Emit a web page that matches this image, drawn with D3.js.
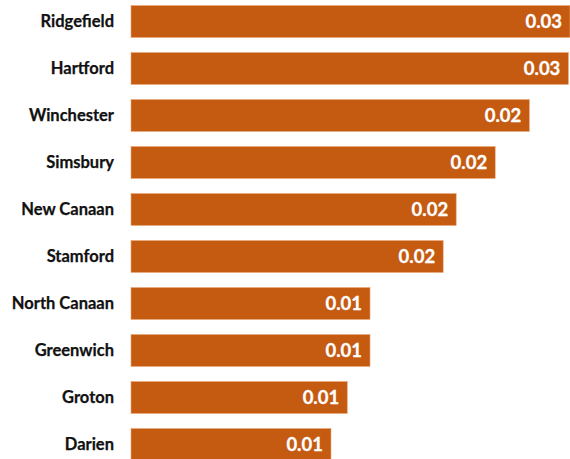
<!DOCTYPE html>
<html>
<head>
<meta charset="utf-8">
<script src="https://cdn.jsdelivr.net/npm/d3@7"></script>
<style>
  html, body { margin: 0; padding: 0; background: #fff; }
  svg { display: block; }
</style>
</head>
<body>
<script>
// Towns ranked by value, top to bottom
const towns = ["Ridgefield", "Hartford", "Winchester", "Simsbury", "New Canaan",
               "Stamford", "North Canaan", "Greenwich", "Groton", "Darien"];
const values = [0.0270, 0.0269, 0.0245, 0.0224, 0.0200,
                0.0192, 0.0147, 0.0147, 0.0133, 0.0123];

const width = 570, height = 459;
const barLeft = 131, barRight = 570;

const svg = d3.select("body").append("svg")
  .attr("width", width)
  .attr("height", height);

const x = d3.scaleLinear().domain([0, 0.027]).range([barLeft, barRight]);
const y = d3.scaleBand().domain(towns).range([-2, 468]).paddingInner(0.32).paddingOuter(0.16);

const fmt = d3.format(".2f");
const font = "Lato, 'Open Sans', sans-serif";

const rows = svg.selectAll("g.row")
  .data(towns.map((t, i) => ({ town: t, value: values[i] })))
  .join("g")
  .attr("class", "row");

rows.append("rect")
  .attr("x", x(0))
  .attr("y", d => y(d.town))
  .attr("width", d => x(d.value) - x(0))
  .attr("height", y.bandwidth())
  .attr("fill", "#C55A11")
  .attr("stroke", "#E8A878")
  .attr("stroke-width", 0.6);

// Category labels on the left
rows.append("text")
  .attr("x", barLeft - 17)
  .attr("y", d => y(d.town) + y.bandwidth() / 2)
  .attr("dy", "0.35em")
  .attr("text-anchor", "end")
  .attr("font-family", font)
  .attr("font-weight", "bold")
  .attr("font-size", 16.5)
  .attr("fill", "#111")
  .attr("stroke", "#111")
  .attr("stroke-width", 0.25)
  .text(d => d.town);

// Value labels inside the bar ends
rows.append("text")
  .attr("x", d => x(d.value) - 8)
  .attr("y", d => y(d.town) + y.bandwidth() / 2)
  .attr("dy", "0.36em")
  .attr("text-anchor", "end")
  .attr("font-family", font)
  .attr("font-weight", "bold")
  .attr("font-size", 18.5)
  .attr("fill", "#ffffff")
  .attr("stroke", "#ffffff")
  .attr("stroke-width", 0.3)
  .text(d => fmt(d.value));
</script>
</body>
</html>
